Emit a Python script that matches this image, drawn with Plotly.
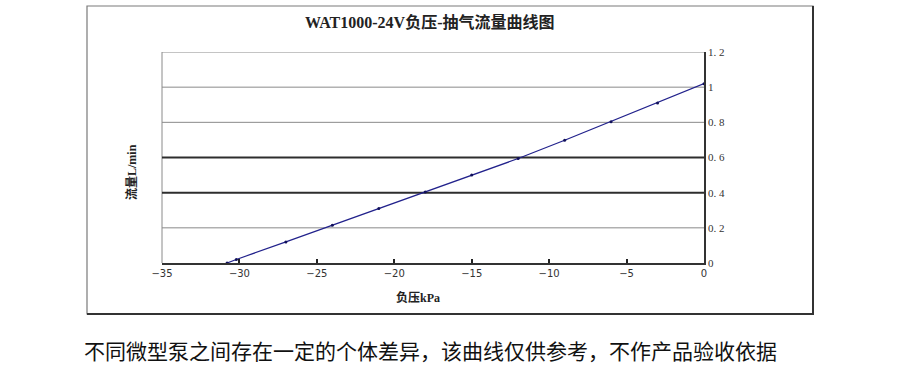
import plotly.graph_objects as go

# Data
pressure_kpa = [-30.8, -30.2, -27, -24, -21, -18, -15, -12, -9, -6, -3, 0]
flow_lpm = [0.0, 0.02, 0.12, 0.215, 0.31, 0.404, 0.50, 0.594, 0.698, 0.804, 0.91, 1.02]
x_ticks = [-35, -30, -25, -20, -15, -10, -5, 0]
y_ticks = [0, 0.2, 0.4, 0.6, 0.8, 1.0, 1.2]
y_tick_labels = ["0", "0. 2", "0. 4", "0. 6", "0. 8", "1", "1. 2"]
dark_grid = [0.4, 0.6]

title_text = "WAT1000-24V负压-抽气流量曲线图"
y_title = "流量L/min"
x_title = "负压kPa"
caption = "不同微型泵之间存在一定的个体差异，该曲线仅供参考，不作产品验收依据"

W, H = 900, 365
L, R, T, B = 162, 704, 52, 263  # plot area in page pixels
pw, ph = R - L, B - T

def px(xp):
    return (xp - L) / pw

def py(yp):
    return (B - yp) / ph

serif = "Liberation Serif, Noto Sans CJK SC, serif"
cjk = "Noto Sans CJK SC, sans-serif"

fig = go.Figure()
fig.add_trace(go.Scatter(
    x=pressure_kpa, y=flow_lpm, mode="lines+markers",
    line=dict(color="#22228c", width=1.2),
    marker=dict(color="#10105a", size=3),
    showlegend=False, cliponaxis=False,
))

shapes = []
# outer frame
shapes.append(dict(type="rect", xref="paper", yref="paper",
                   x0=px(87), x1=px(813), y0=py(314), y1=py(6),
                   line=dict(color="#7a7a7a", width=1.2), layer="below"))
shapes.append(dict(type="line", xref="paper", yref="paper",
                   x0=px(813), x1=px(813), y0=py(315), y1=py(6),
                   line=dict(color="#333333", width=2)))
shapes.append(dict(type="line", xref="paper", yref="paper",
                   x0=px(87), x1=px(814), y0=py(314), y1=py(314),
                   line=dict(color="#333333", width=2)))
# plot area left border
shapes.append(dict(type="line", xref="paper", yref="paper",
                   x0=0, x1=0, y0=0, y1=1,
                   line=dict(color="#8a8a8a", width=1), layer="below"))
# grid lines (0.4 and 0.6 darker)
for g in y_ticks[1:]:
    dark = g in dark_grid
    shapes.append(dict(type="line", xref="paper", yref="y",
                       x0=0, x1=1, y0=g, y1=g,
                       line=dict(color="#2e2e2e" if dark else "#8a8a8a",
                                 width=2 if dark else 1), layer="below"))

def ann(text, xp, yp, font, angle=0):
    return dict(text=text, xref="paper", yref="paper", x=px(xp), y=py(yp),
                xanchor="center", yanchor="middle", showarrow=False,
                textangle=angle, font=font)

annotations = [
    ann(f"<b>{title_text}</b>", 429, 22, dict(family=serif, size=16, color="#222")),
    ann(f"<b>{y_title}</b>", 131, 172, dict(family=serif, size=12, color="#222"), -90),
    ann(f"<b>{x_title}</b>", 418, 297, dict(family=serif, size=12, color="#222")),
    ann(caption, 430, 350, dict(family=cjk, size=21, color="#111")),
]

fig.update_layout(
    width=W, height=H,
    margin=dict(l=L, r=W - R, t=T, b=H - B),
    paper_bgcolor="white", plot_bgcolor="white",
    shapes=shapes, annotations=annotations,
    xaxis=dict(range=[-35, 0], tickvals=x_ticks, ticks="inside", ticklen=4,
               tickcolor="#222", tickwidth=1.5,
               showline=True, linecolor="#333", linewidth=1.5,
               showgrid=False, zeroline=False, fixedrange=True,
               tickfont=dict(family="DejaVu Sans, sans-serif", size=10, color="#333"),
               mirror=False),
    yaxis=dict(range=[0, 1.2], tickvals=y_ticks, ticktext=y_tick_labels,
               side="right", showline=True, linecolor="#333", linewidth=1.5,
               showgrid=False, zeroline=False, ticks="", fixedrange=True,
               tickfont=dict(family=serif, size=11, color="#333")),
)

fig.write_html("out.html", config={"displayModeBar": False},
               post_script="document.body.style.margin='0';document.body.style.overflow='hidden';")
